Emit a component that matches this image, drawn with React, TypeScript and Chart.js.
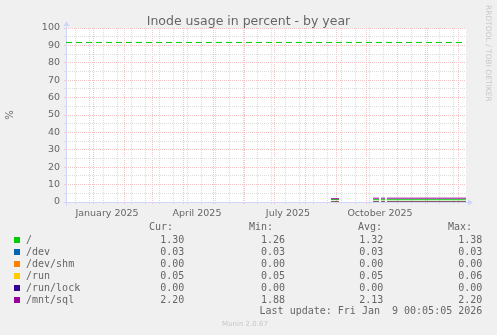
import { useEffect, useRef } from "react";
import { Chart, registerables } from "chart.js";

Chart.register(...registerables);

// ---- data (days since 5 Dec 2024, 400-day window ending 9 Jan 2026) ----
const sampleDays = [265, 273, 274, 307, 313, 314, 315, 319, 320, 321, 360, 400];
const rootValues = [1.36, 1.34, null, 1.32, 1.30, null, 1.31, 1.30, null, 1.30, 1.31, 1.30];
const devValues = [0.03, 0.03, null, 0.03, 0.03, null, 0.03, 0.03, null, 0.03, 0.03, 0.03];
const devShmValues = [0.0, 0.0, null, 0.0, 0.0, null, 0.0, 0.0, null, 0.0, 0.0, 0.0];
const runValues = [0.05, 0.05, null, 0.05, 0.05, null, 0.05, 0.05, null, 0.05, 0.06, 0.05];
const runLockValues = [0.0, 0.0, null, 0.0, 0.0, null, 0.0, 0.0, null, 0.0, 0.0, 0.0];
const mntSqlValues = [1.88, 1.9, null, 2.18, 2.2, null, 2.2, 2.2, null, 2.2, 2.2, 2.2];

const warningDays = [0, 400];
const rootWarningValues = [91.7, 91.7];

const seriesNames = ["/", "/dev", "/dev/shm", "/run", "/run/lock", "/mnt/sql"];
const seriesColors = ["#00CC00", "#0066B3", "#FF8000", "#FFCC00", "#330099", "#990099"];
const seriesValues = [rootValues, devValues, devShmValues, runValues, runLockValues, mntSqlValues];

const curValues = [1.3, 0.03, 0.0, 0.05, 0.0, 2.2];
const minValues = [1.26, 0.03, 0.0, 0.05, 0.0, 1.88];
const avgValues = [1.32, 0.03, 0.0, 0.05, 0.0, 2.13];
const maxValues = [1.38, 0.03, 0.0, 0.06, 0.0, 2.2];

const monthStartDays = [27, 58, 86, 117, 147, 178, 208, 239, 270, 300, 331, 361, 392];
const minorGridDays = [9, 23, 37, 51, 65, 79, 93, 107, 121, 135, 149, 163, 177, 191, 205, 219, 233, 247, 261, 275, 289, 303, 317, 345, 359, 373, 387];
const monthLabelDays = [41, 131, 222, 314];
const monthLabels = ["January 2025", "April 2025", "July 2025", "October 2025"];

const title = "Inode usage in percent - by year";
const yAxisTitle = "%";
const lastUpdate = "Last update: Fri Jan  9 00:05:05 2026";
const watermark = "RRDTOOL / TOBI OETIKER";
const version = "Munin 2.0.67";

const FONT_COLOR = "#666666";
const AXIS_COLOR = "#CFD6F8";
const GRID_MINOR = "#DCDCDC";
const GRID_MAJOR = "#F2C4C4";

const xTickValues = Array.from(new Set([...monthStartDays, ...minorGridDays, ...monthLabelDays])).sort((a, b) => a - b);

const bgPlugin = {
  id: "bgPlugin",
  beforeDraw(chart: any) {
    const { ctx, chartArea } = chart;
    ctx.save();
    ctx.fillStyle = "#F0F0F0";
    ctx.fillRect(0, 0, chart.width, chart.height);
    ctx.fillStyle = "#FFFFFF";
    ctx.fillRect(chartArea.left, chartArea.top, chartArea.right - chartArea.left, chartArea.bottom - chartArea.top);
    ctx.restore();
  },
  beforeDatasetsDraw(chart: any) {
    const { ctx, chartArea } = chart;
    const l = chartArea.left + 0.5;
    const b = chartArea.bottom + 0.5;
    ctx.save();
    ctx.strokeStyle = AXIS_COLOR;
    ctx.fillStyle = AXIS_COLOR;
    ctx.lineWidth = 1;
    ctx.beginPath();
    ctx.moveTo(l, b + 3);
    ctx.lineTo(l, chartArea.top - 2);
    ctx.moveTo(l - 3, b);
    ctx.lineTo(chartArea.right + 2, b);
    ctx.stroke();
    ctx.beginPath();
    ctx.moveTo(l, chartArea.top - 7);
    ctx.lineTo(l - 3, chartArea.top - 2);
    ctx.lineTo(l + 3, chartArea.top - 2);
    ctx.closePath();
    ctx.fill();
    ctx.beginPath();
    ctx.moveTo(chartArea.right + 7, b);
    ctx.lineTo(chartArea.right + 2, b - 3);
    ctx.lineTo(chartArea.right + 2, b + 3);
    ctx.closePath();
    ctx.fill();
    ctx.restore();
  },
};

const toPoints = (days: number[], vals: (number | null)[]) => days.map((d, i) => ({ x: d, y: vals[i] }));

const fmt = (v: number) => v.toFixed(2);

export default function App() {
  const ref = useRef<HTMLCanvasElement>(null);

  useEffect(() => {
    const canvas = ref.current;
    if (!canvas) return;
    const datasets: any[] = [
      {
        label: "/ warning",
        data: toPoints(warningDays, rootWarningValues),
        borderColor: seriesColors[0],
        borderWidth: 1,
        borderDash: [6, 4],
        pointRadius: 0,
        order: 10,
      },
      ...seriesNames.map((name, i) => ({
        label: name,
        data: toPoints(sampleDays, seriesValues[i]),
        borderColor: seriesColors[i],
        borderWidth: 1,
        pointRadius: 0,
        spanGaps: false,
        order: 6 - i,
      })),
    ];
    const chart = new Chart(canvas, {
      type: "line",
      data: { datasets },
      options: {
        animation: false,
        responsive: false,
        devicePixelRatio: 1,
        events: [],
        layout: { padding: { left: 0, top: 28, right: 31, bottom: 113 } },
        plugins: { legend: { display: false }, tooltip: { enabled: false }, title: { display: false } },
        elements: { line: { tension: 0 } },
        scales: {
          x: {
            type: "linear",
            min: 0,
            max: 400,
            afterBuildTicks: (scale: any) => {
              scale.ticks = xTickValues.map((v) => ({ value: v }));
            },
            afterFit: (scale: any) => {
              scale.height = 20;
            },
            border: { display: false, dash: [1, 1] },
            grid: {
              color: (ctx: any) => {
                const v = ctx.tick ? ctx.tick.value : -1;
                if (monthStartDays.includes(v)) return GRID_MAJOR;
                if (minorGridDays.includes(v)) return GRID_MINOR;
                return "rgba(0,0,0,0)";
              },
              lineWidth: 1,
              tickLength: 2,
            },
            ticks: {
              autoSkip: false,
              maxRotation: 0,
              minRotation: 0,
              padding: 3.5,
              color: FONT_COLOR,
              font: { family: "DejaVu Sans", size: 9.5 },
              callback: (value: any) => {
                const idx = monthLabelDays.indexOf(Number(value));
                return idx >= 0 ? monthLabels[idx] : "";
              },
            },
          },
          y: {
            type: "linear",
            min: 0,
            max: 100,
            afterFit: (scale: any) => {
              scale.width = 66;
            },
            border: { display: false, dash: [1, 1] },
            grid: {
              color: (ctx: any) => {
                const v = ctx.tick ? ctx.tick.value : 0;
                return v % 10 === 0 ? GRID_MAJOR : GRID_MINOR;
              },
              lineWidth: 1,
              tickLength: 2,
            },
            ticks: {
              stepSize: 5,
              autoSkip: false,
              padding: 4,
              color: FONT_COLOR,
              font: { family: "DejaVu Sans", size: 9.5 },
              callback: (value: any) => (Number(value) % 10 === 0 ? String(value) : ""),
            },
            title: {
              display: true,
              text: yAxisTitle,
              color: FONT_COLOR,
              font: { family: "DejaVu Sans", size: 10 },
              padding: { top: 4, bottom: 0 },
            },
          },
        },
      } as any,
      plugins: [bgPlugin],
    });
    return () => chart.destroy();
  }, []);

  const mono: any = {
    position: "absolute",
    fontFamily: "'DejaVu Sans Mono', monospace",
    fontSize: "10px",
    lineHeight: "12px",
    color: FONT_COLOR,
    whiteSpace: "pre",
  };
  const colRight = [184.3, 285, 383.3, 482.3];
  const headers = ["Cur:", "Min:", "Avg:", "Max:"];
  const headerLeft = [149, 249, 358, 448];
  const cols = [curValues, minValues, avgValues, maxValues];

  return (
    <div style={{ position: "fixed", left: 0, top: 0, width: 497, height: 335, background: "#F0F0F0", overflow: "hidden" }}>
      <canvas ref={ref} width={497} height={335} style={{ position: "absolute", left: 0, top: 0, width: 497, height: 335 }} />
      <div
        style={{
          position: "absolute",
          left: 0,
          top: 13.2,
          width: 497,
          textAlign: "center",
          fontFamily: "'DejaVu Sans', sans-serif",
          fontSize: "12.5px",
          lineHeight: "15px",
          color: FONT_COLOR,
          whiteSpace: "pre",
        }}
      >
        {title}
      </div>
      <div
        style={{
          position: "absolute",
          left: 483.5,
          top: 5,
          writingMode: "vertical-rl",
          fontFamily: "'DejaVu Sans', sans-serif",
          fontSize: "7.5px",
          lineHeight: "9px",
          color: "#C8C8C8",
          whiteSpace: "pre",
        }}
      >
        {watermark}
      </div>
      {headers.map((h, j) => (
        <div key={h} style={{ ...mono, left: headerLeft[j], top: 221.2 }}>
          {h}
        </div>
      ))}
      {seriesNames.map((name, i) => (
        <div key={name}>
          <div style={{ position: "absolute", left: 14, top: 237 + 12 * i, width: 6, height: 6, background: seriesColors[i] }} />
          <div style={{ ...mono, left: 26, top: 233.9 + 12 * i }}>{name}</div>
          {cols.map((c, j) => (
            <div key={j} style={{ ...mono, right: 497 - colRight[j], top: 233.9 + 12 * i, textAlign: "right" }}>
              {fmt(c[i])}
            </div>
          ))}
        </div>
      ))}
      <div style={{ ...mono, right: 497 - 482.3, top: 304.5, textAlign: "right" }}>{lastUpdate}</div>
      <div
        style={{
          position: "absolute",
          left: 0,
          width: 490,
          top: 319.8,
          textAlign: "center",
          fontFamily: "'DejaVu Sans', sans-serif",
          fontSize: "7px",
          lineHeight: "9px",
          color: "#C8C8C8",
          whiteSpace: "pre",
        }}
      >
        {version}
      </div>
    </div>
  );
}
